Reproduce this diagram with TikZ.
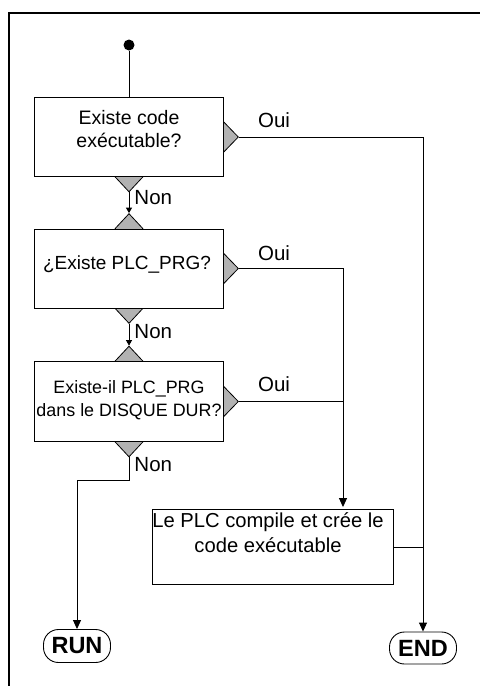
\documentclass[tikz,border=0pt]{standalone}
\usepackage{fontspec}
\setmainfont{Liberation Sans}
\usetikzlibrary{positioning,shapes.geometric,arrows.meta,backgrounds}

\begin{document}
\begin{tikzpicture}[x=1pt,y=-1pt,line width=0.9pt]
  \tikzstyle{qbox}=[draw,fill=white,minimum width=189pt,minimum height=79pt,
    inner sep=0pt]
  \tikzstyle{txt}=[inner sep=0pt,align=center,font=\fontsize{19.5}{23.3}\selectfont]
  \tikzstyle{tip}=[draw,fill=black!30,shape=diamond,inner sep=0pt,
    minimum width=29pt,minimum height=30pt,line width=0.8pt]
  \tikzstyle{lbl}=[inner sep=0pt,font=\fontsize{20.5}{22}\selectfont]
  \tikzstyle{term}=[draw,rounded corners=15pt,minimum width=67pt,minimum height=33pt,
    inner sep=0pt,font=\bfseries\fontsize{23.5}{25}\selectfont]
  \tikzstyle{small}=[-{Triangle[length=5.5pt,width=6pt]}]
  \tikzstyle{big}=[-{Triangle[length=9pt,width=8pt]}]
  \useasboundingbox (0,0) rectangle (480,686);
  % frame
  \draw[line width=2.2pt] (9,686) -- (9,13) -- (480,13);
  % boxes
  \node[circle,fill=black,inner sep=0pt,minimum size=11pt] (start) at (129,45) {};
  \node[qbox] (q1) at (129,137) {};
  \node[qbox] (q2) at (129,268.5) {};
  \node[qbox,minimum height=80pt] (q3) at (129,401.5) {};
  \node[qbox,minimum width=241pt,minimum height=75pt] (comp) at (272.5,547) {};
  \node[txt] (t1) at (129,129) {Existe code\\exécutable?};
  \node[txt,anchor=base,font=\fontsize{19}{22}\selectfont] (t2) at (127,269) {¿Existe PLC\_PRG?};
  \node[txt,font=\fontsize{17.9}{23}\selectfont] (t3) at (129,400.5) {Existe-il PLC\_PRG\\dans le DISQUE DUR?};
  \node[txt,font=\fontsize{20.2}{25}\selectfont] (t4) at (268,533) {Le PLC compile et crée le\\code exécutable};
  % decision tips
  \begin{scope}[on background layer]
    \node[tip] (q1r) at (q1.east) {};
    \node[tip,minimum width=28pt] (q1b) at (q1.south) {};
    \node[tip,minimum width=28pt] (q2t) at (q2.north) {};
    \node[tip] (q2r) at (q2.east) {};
    \node[tip,minimum width=28pt] (q2b) at (q2.south) {};
    \node[tip,minimum width=28pt] (q3t) at (q3.north) {};
    \node[tip] (q3r) at (q3.east) {};
    \node[tip,minimum width=28pt] (q3b) at (q3.south) {};
  \end{scope}
  % terminals
  \node[term] (run) at (77,646) {RUN};
  \node[term,minimum height=32pt] (fin) at (423,648) {END};
  \coordinate (bus) at (343,0);
  % labels
  \node[lbl] (oui1) at (274,120) {Oui};
  \node[lbl] (oui2) at (274,253) {Oui};
  \node[lbl] (oui3) at (274,384) {Oui};
  \node[lbl,anchor=west] (non1) at (134,198) {Non};
  \node[lbl,anchor=west] (non2) at (134,332) {Non};
  \node[lbl,anchor=west] (non3) at (134,465) {Non};
  % connectors
  \draw (start) -- (q1.north);
  \draw[small] (q1b.south) -- (q2t.north);
  \draw[small] (q2b.south) -- (q3t.north);
  \draw[big] (q1r.east) -| (fin.north);
  \draw[big] (q2r.east) -| ([yshift=2pt]bus |- comp.north);
  \draw (q3r.east) -- (q3r.east -| bus);
  \draw (comp.east) -- (comp.east -| fin);
  \draw[big] (q3b.south) -- ++(0,23) -| (run.north);
\end{tikzpicture}
\end{document}
